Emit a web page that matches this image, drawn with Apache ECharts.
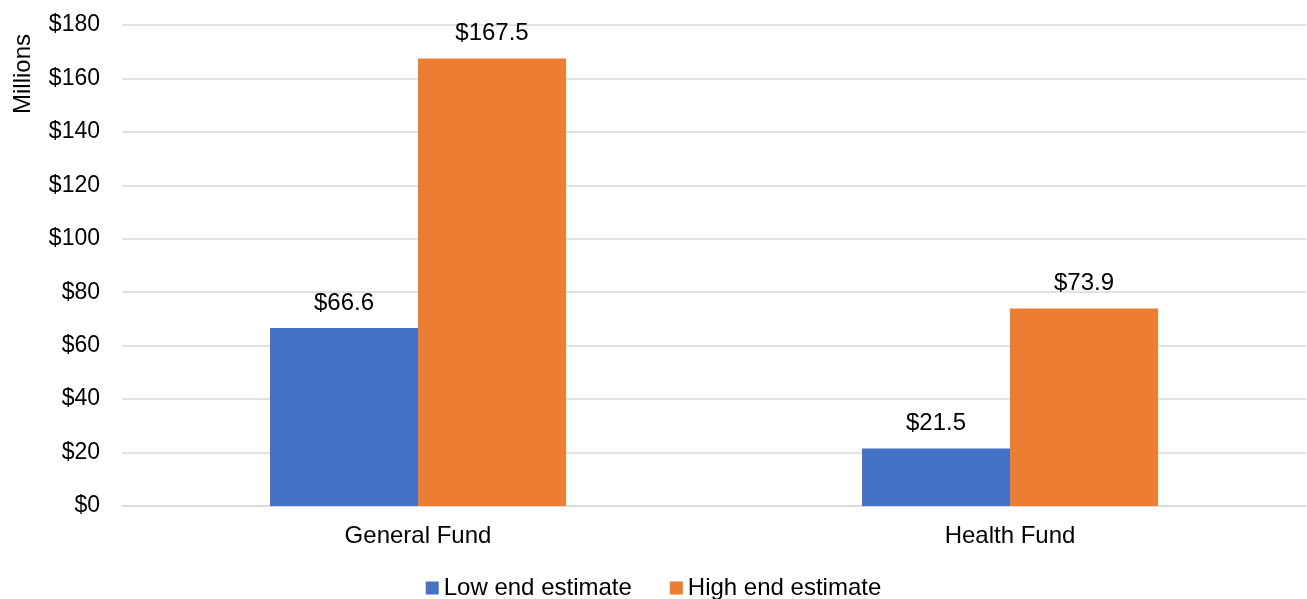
<!DOCTYPE html>
<html>
<head>
<meta charset="utf-8">
<script src="https://cdn.jsdelivr.net/npm/echarts@6/dist/echarts.min.js"></script>
<style>
  html, body { margin: 0; padding: 0; background: #fff; }
  #chart { width: 1307px; height: 599px; }
</style>
</head>
<body>
<div id="chart"></div>
<script>
const categories = ['General Fund', 'Health Fund'];
const lowEnd = [66.6, 21.5];
const highEnd = [167.5, 73.9];
const seriesNames = ['Low end estimate', 'High end estimate'];

const chart = echarts.init(document.getElementById('chart'));
const font = 'Liberation Sans, Arial, sans-serif';

const option = {
    animation: false,
    textStyle: {fontFamily: font},
    grid: {
        left: 122,
        right: 1,
        top: 25,
        bottom: 93
    },
    legend: {
        data: seriesNames,
        bottom: -6,
        left: 'center',
        itemWidth: 13,
        itemHeight: 13,
        itemGap: 38,
        icon: 'rect',
        textStyle: {fontSize: 24, color: '#000', fontFamily: font}
    },
    xAxis: {
        type: 'category',
        data: categories,
        axisLine: {lineStyle: {color: '#d9d9d9', width: 1.5}},
        axisTick: {show: false},
        axisLabel: {fontSize: 24, color: '#000', margin: 18, fontFamily: font}
    },
    yAxis: {
        type: 'value',
        min: 0,
        max: 180,
        interval: 20,
        name: 'Millions',
        nameLocation: 'end',
        nameRotate: 90,
        nameGap: 0,
        nameTextStyle: {fontSize: 24, color: '#000', fontFamily: font, align: 'right', verticalAlign: 'bottom', padding: [0, 9, 87, 0]},
        axisLine: {show: false},
        axisTick: {show: false},
        splitLine: {lineStyle: {color: '#d9d9d9', width: 1.5}},
        axisLabel: {
            fontSize: 23,
            color: '#000',
            margin: 22,
            fontFamily: font,
            formatter: v => '$' + v
        }
    },
    series: [
        {
            name: seriesNames[0],
            type: 'bar',
            data: lowEnd,
            barGap: '0%',
            barCategoryGap: '50%',
            itemStyle: {color: '#4472c4'},
            label: {
                show: true,
                position: 'top',
                distance: 13,
                fontSize: 24,
                color: '#000',
                fontFamily: font,
                formatter: p => '$' + p.value.toFixed(1)
            }
        },
        {
            name: seriesNames[1],
            type: 'bar',
            data: highEnd,
            barGap: '0%',
            barCategoryGap: '50%',
            itemStyle: {color: '#ed7d31'},
            label: {
                show: true,
                position: 'top',
                distance: 13,
                fontSize: 24,
                color: '#000',
                fontFamily: font,
                formatter: p => '$' + p.value.toFixed(1)
            }
        }
    ]
};

chart.setOption(option);
</script>
</body>
</html>
